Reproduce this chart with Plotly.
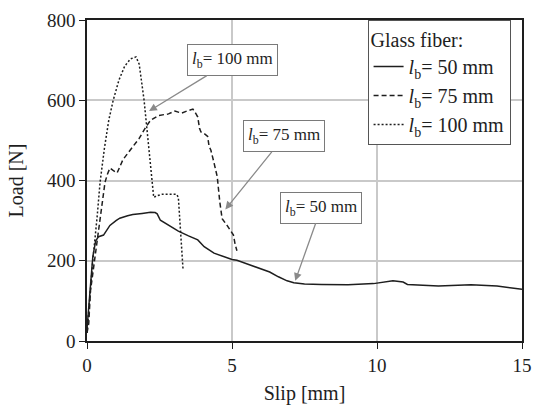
import plotly.graph_objects as go

# Pull-out curves (slip in mm, load in N) for glass fiber at three bond lengths
slip_50 = [0, 0.05, 0.12, 0.2, 0.3, 0.4, 0.57, 0.79, 1.0, 1.13, 1.4, 1.58, 1.9, 2.19,
           2.35, 2.42, 2.53, 2.8, 3.15, 3.5, 3.82, 4.04, 4.38, 5.0, 5.17, 5.6, 6.0,
           6.3, 6.6, 6.9, 7.13, 7.5, 8.08, 9.0, 9.88, 10.3, 10.55, 10.9, 11.05, 12.12,
           13.24, 14.14, 14.59, 15.0]
load_50 = [30, 80, 150, 210, 250, 260, 264, 288, 300, 306, 312, 315, 318, 321,
           320, 317, 301, 290, 274, 262, 252, 235, 219, 203, 201, 190, 180,
           172, 160, 150, 145, 142, 141, 140, 143, 148, 150, 147, 141, 137,
           140, 137, 132, 129]

slip_75 = [0, 0.06, 0.12, 0.25, 0.4, 0.5, 0.62, 0.7, 0.79, 0.9, 1.04, 1.24, 1.58,
           1.8, 2.02, 2.19, 2.47, 2.81, 3.03, 3.26, 3.48, 3.65, 3.76, 3.82, 3.88,
           3.93, 4.04, 4.10, 4.16, 4.21, 4.27, 4.38, 4.49, 4.58, 4.66, 4.83, 4.94,
           5.05, 5.11, 5.17]
load_75 = [20, 44, 125, 195, 275, 335, 395, 415, 431, 425, 419, 452, 485,
           505, 532, 550, 562, 566, 573, 568, 574, 578, 566, 558, 530,
           521, 517, 513, 510, 485, 476, 444, 410, 346, 305, 288, 276,
           264, 240, 225]

slip_100 = [0, 0.03, 0.1, 0.2, 0.35, 0.45, 0.6, 0.75, 0.9, 1.1, 1.3, 1.5, 1.69,
            1.8, 1.97, 2.14, 2.22, 2.30, 2.42, 2.6, 2.81, 3.09, 3.15, 3.2, 3.25, 3.31]
load_100 = [20, 50, 110, 200, 310, 395, 480, 550, 599, 650, 685, 703, 708,
            690, 599, 473, 400, 358, 362, 366, 366, 366, 358, 300, 230, 180]

series = [
    ("<i>l</i><sub>b</sub>= 50 mm", slip_50, load_50, "solid"),
    ("<i>l</i><sub>b</sub>= 75 mm", slip_75, load_75, "5px,3px"),
    ("<i>l</i><sub>b</sub>= 100 mm", slip_100, load_100, "2px,2px"),
]

# Callout labels: text, arrow target (slip, load), pixel offset of the box
callouts = [
    ("<i>l</i><sub>b</sub>= 100 mm", 2.14, 573, 83, -51),
    ("<i>l</i><sub>b</sub>= 75 mm", 4.77, 328, 59, -73),
    ("<i>l</i><sub>b</sub>= 50 mm", 7.18, 150, 26, -73),
]

FONT = "Liberation Serif, Times New Roman, serif"
INK = "#1e1e1e"

fig = go.Figure()
for name, xs, ys, dash in series:
    fig.add_trace(go.Scatter(
        x=xs, y=ys, mode="lines", name=name,
        line=dict(color=INK, width=1.5, dash=dash),
    ))

for text, x, y, ax, ay in callouts:
    fig.add_annotation(
        x=x, y=y, xref="x", yref="y", ax=ax, ay=ay,
        text=text, showarrow=True, arrowhead=2, arrowsize=1.2,
        arrowwidth=1.3, arrowcolor="#8a8a8a",
        bgcolor="white", bordercolor="#7a7a7a", borderwidth=1, borderpad=4,
        font=dict(family=FONT, size=17, color=INK),
    )

axis_common = dict(
    showline=True, linecolor=INK, linewidth=1.5, mirror=True,
    ticks="outside", ticklen=6, tickcolor=INK, tickwidth=1.2,
    showgrid=True, gridcolor="#c9c9c9", gridwidth=1.5, zeroline=False,
    tickfont=dict(family=FONT, size=19, color=INK),
)

fig.update_layout(
    width=542, height=413,
    margin=dict(l=87, r=10, t=15, b=72),
    paper_bgcolor="white", plot_bgcolor="white",
    font=dict(family=FONT, size=19, color=INK),
    xaxis=dict(range=[0, 15], tickvals=[0, 5, 10, 15],
               title=dict(text="Slip [mm]", font=dict(family=FONT, size=20), standoff=11),
               **axis_common),
    yaxis=dict(range=[0, 800], tickvals=[0, 200, 400, 600, 800],
               title=dict(text="Load [N]", font=dict(family=FONT, size=20), standoff=18),
               **axis_common),
    showlegend=True,
    legend=dict(
        x=0.645, y=1.0, xanchor="left", yanchor="top",
        bgcolor="white", bordercolor="#555555", borderwidth=1,
        title=dict(text="Glass fiber:", font=dict(family=FONT, size=20)),
        font=dict(family=FONT, size=20, color=INK),
        tracegroupgap=0,
    ),
)

fig.write_html("out.html")
